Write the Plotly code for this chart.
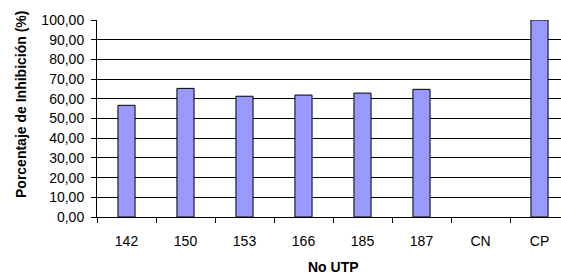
import plotly.graph_objects as go

categories = ["142", "150", "153", "166", "185", "187", "CN", "CP"]
values = [56.7, 65.3, 61.3, 61.9, 62.9, 64.8, None, 100.0]
y_ticks = [0, 10, 20, 30, 40, 50, 60, 70, 80, 90, 100]

W, H = 561, 274
ml, mt, mb = 97, 20, 57
plot_w = W - ml
plot_h = H - mt - mb
unit = 59.0
x_end = -0.5 + plot_w / unit

fig = go.Figure(go.Bar(
    x=categories, y=values, width=0.29,
    marker=dict(color="#9999FF", line=dict(color="#000000", width=1)),
))

font = "Liberation Sans, Arial, sans-serif"
fig.update_layout(
    width=W, height=H,
    margin=dict(l=ml, r=0, t=mt, b=mb, pad=0),
    paper_bgcolor="white", plot_bgcolor="white",
    separators=",.",
    showlegend=False,
    font=dict(family=font, size=14, color="black"),
    xaxis=dict(
        type="category", range=[-0.5, x_end], automargin=False,
        tickson="boundaries", ticks="outside", ticklen=5, tickcolor="black",
        showline=True, linecolor="black", linewidth=1,
        showgrid=False,
        tickfont=dict(size=14), ticklabelstandoff=11,
    ),
    yaxis=dict(
        range=[0, 100], tickvals=y_ticks, tickformat=".2f", automargin=False,
        ticks="outside", ticklen=5, tickcolor="black",
        showline=True, linecolor="black", linewidth=1,
        showgrid=True, gridcolor="black", gridwidth=1,
        zeroline=False,
        tickfont=dict(size=14), ticklabelstandoff=4,
    ),
    annotations=[
        dict(text="<b>Porcentaje de Inhibición (%)</b>", textangle=-90,
             xref="paper", yref="paper",
             x=(21 - ml) / plot_w, y=(mt + plot_h - 105) / plot_h,
             xanchor="center", yanchor="middle", showarrow=False,
             font=dict(size=14)),
        dict(text="<b>No UTP</b>",
             xref="paper", yref="paper",
             x=(333 - ml) / plot_w, y=(mt + plot_h - 267) / plot_h,
             xanchor="center", yanchor="middle", showarrow=False,
             font=dict(size=14)),
    ],
)

fig.write_html(
    "out.html",
    config={"displayModeBar": False},
    post_script="document.body.style.margin='0';document.body.style.overflow='hidden';",
)
